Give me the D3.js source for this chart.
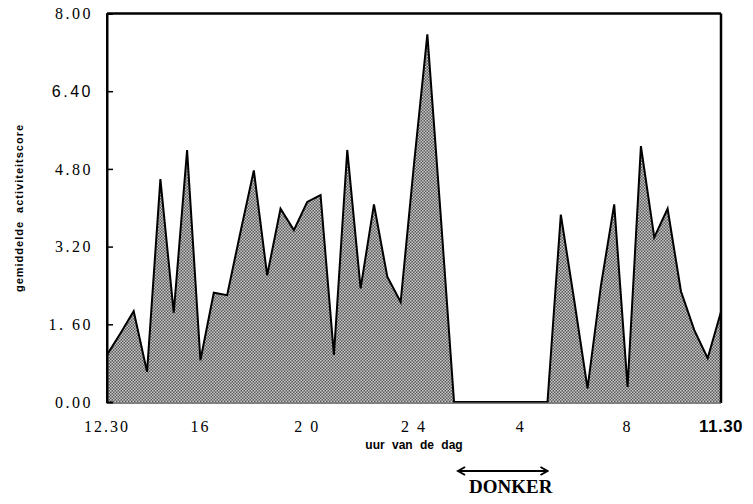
<!DOCTYPE html>
<html>
<head>
<meta charset="utf-8">
<script src="https://cdn.jsdelivr.net/npm/d3@7"></script>
<style>
  body { margin: 0; background: #fff; }
  svg { display: block; }
  .ylab { font-family: "Liberation Serif", serif; font-size: 16px; letter-spacing: 2.5px; }
  .xlab { font-family: "Liberation Serif", serif; font-size: 16px; letter-spacing: 2px; }
</style>
</head>
<body>
<div id="chart"></div>
<script>
// half-hour samples, 12.30 -> 11.30 next day
var times = ["12:30","13:00","13:30","14:00","14:30","15:00","15:30","16:00","16:30","17:00",
             "17:30","18:00","18:30","19:00","19:30","20:00","20:30","21:00","21:30","22:00",
             "22:30","23:00","23:30","24:00","00:30","01:00","01:30","02:00","02:30","03:00",
             "03:30","04:00","04:30","05:00","05:30","06:00","06:30","07:00","07:30","08:00",
             "08:30","09:00","09:30","10:00","10:30","11:00","11:30"];

// gemiddelde activiteitscore per half uur
var scores = [0.97, 1.41, 1.87, 0.62, 4.59, 1.84, 5.19, 0.86, 2.25, 2.20,
              3.50, 4.77, 2.61, 3.98, 3.54, 4.12, 4.26, 0.97, 5.19, 2.34,
              4.07, 2.58, 2.06, 4.90, 7.57, 3.85, 0.00, 0.00, 0.00, 0.00,
              0.00, 0.00, 0.00, 0.00, 3.86, 2.10, 0.28, 2.39, 4.07, 0.31,
              5.27, 3.39, 3.98, 2.28, 1.48, 0.90, 1.86];

var yTicks = [0, 1.6, 3.2, 4.8, 6.4, 8];
var yTickLabels = ["0.00", "1. 60", "3.20", "4.80", "6.40", "8.00"];
var xTicks = [12.5, 16, 20, 24, 28, 32, 35.5];
var xTickLabels = ["12.30", "16", "2 0", "2 4", "4", "8", "11.30"];

// dark period (hours since midnight of first day)
var darkPeriod = [25.65, 29.0];

// hours since midnight of first day
function toHours(t, i) {
  var p = t.split(":");
  var h = +p[0] + (+p[1]) / 60;
  if (i > 0 && h < 12.5) h += 24;
  return h;
}

var data = times.map(function(t, i) { return {h: toHours(t, i), v: scores[i]}; });

var W = 753, H = 504;
var margin = {top: 13.5, right: 32, bottom: 102, left: 107};
var width = W - margin.left - margin.right,
    height = H - margin.top - margin.bottom;

var svg = d3.select("#chart").append("svg")
    .attr("width", W)
    .attr("height", H);

// halftone fill
var defs = svg.append("defs");
var pat = defs.append("pattern")
    .attr("id", "dots")
    .attr("patternUnits", "userSpaceOnUse")
    .attr("width", 3)
    .attr("height", 3);
pat.append("rect").attr("width", 3).attr("height", 3).attr("fill", "#fff");
pat.append("rect").attr("width", 1.5).attr("height", 1.5).attr("fill", "#222");
pat.append("rect").attr("x", 1.5).attr("y", 1.5).attr("width", 1.5).attr("height", 1.5).attr("fill", "#222");

var g = svg.append("g")
    .attr("transform", "translate(" + margin.left + "," + margin.top + ")");

var x = d3.scaleLinear()
    .domain([xTicks[0], xTicks[xTicks.length - 1]])
    .range([0, width]);

var y = d3.scaleLinear()
    .domain([0, 8])
    .range([height, 0]);

// area + outline
g.append("path")
    .datum(data)
    .attr("fill", "url(#dots)")
    .attr("d", d3.area()
        .x(function(d) { return x(d.h); })
        .y0(y(0))
        .y1(function(d) { return y(d.v); }));

g.append("path")
    .datum(data)
    .attr("fill", "none")
    .attr("stroke", "#000")
    .attr("stroke-width", 2)
    .attr("stroke-linejoin", "miter")
    .attr("d", d3.line()
        .x(function(d) { return x(d.h); })
        .y(function(d) { return y(d.v); }));

// frame
g.append("line").attr("x1", 0).attr("x2", width).attr("y1", 0).attr("y2", 0)
    .attr("stroke", "#000").attr("stroke-width", 2.5);
g.append("line").attr("x1", width).attr("x2", width).attr("y1", 0).attr("y2", height + 1)
    .attr("stroke", "#000").attr("stroke-width", 2.5);
g.append("line").attr("x1", 0).attr("x2", width).attr("y1", height + 1).attr("y2", height + 1)
    .attr("stroke", "#555").attr("stroke-width", 1.5);

// y axis, ticks inside
var yAxis = g.append("g")
    .call(d3.axisRight(y)
        .tickValues(yTicks.slice(1))
        .tickSize(6)
        .tickFormat(""));
yAxis.select(".domain").attr("stroke-width", 2);
yAxis.selectAll(".tick line").attr("stroke-width", 1.5);
g.append("line").attr("x1", 0).attr("x2", 0).attr("y1", 0).attr("y2", height + 1)
    .attr("stroke", "#000").attr("stroke-width", 2);

g.selectAll(".ylab")
    .data(yTicks)
    .enter().append("text")
    .attr("class", "ylab")
    .attr("x", -14)
    .attr("y", function(d) { return y(d); })
    .attr("dy", "0.36em")
    .attr("text-anchor", "end")
    .style("font-family", function(d, i) { return i === 4 ? "'Liberation Sans', sans-serif" : null; })
    .text(function(d, i) { return yTickLabels[i]; });

// x labels
g.selectAll(".xlab")
    .data(xTicks)
    .enter().append("text")
    .attr("class", "xlab")
    .attr("x", function(d) { return x(d); })
    .attr("y", height + 30)
    .attr("text-anchor", "middle")
    .style("font-family", function(d, i) { return i === 6 ? "'Liberation Sans', sans-serif" : null; })
    .style("font-weight", function(d, i) { return i === 6 ? "bold" : null; })
    .style("letter-spacing", function(d, i) { return i === 6 ? "0.5px" : null; })
    .style("font-size", function(d, i) { return i === 6 ? "17px" : null; })
    .text(function(d, i) { return xTickLabels[i]; });

// axis titles
g.append("text")
    .attr("x", x(24))
    .attr("y", height + 47)
    .attr("text-anchor", "middle")
    .style("font-family", "'Liberation Sans', sans-serif")
    .style("font-weight", "bold")
    .style("font-size", "12px")
    .style("word-spacing", "4px")
    .text("uur van de dag");

svg.append("text")
    .attr("transform", "translate(23,208) rotate(-90)")
    .attr("text-anchor", "middle")
    .style("font-family", "'Liberation Sans', sans-serif")
    .style("font-weight", "bold")
    .style("font-size", "11px")
    .style("letter-spacing", "1px")
    .style("word-spacing", "4px")
    .text("gemiddelde activiteitscore");

// dark period marker
defs.append("marker")
    .attr("id", "head")
    .attr("viewBox", "0 0 10 10")
    .attr("refX", 8).attr("refY", 5)
    .attr("markerWidth", 5).attr("markerHeight", 5)
    .attr("orient", "auto-start-reverse")
    .append("path")
    .attr("d", "M1,1 L8,5 L1,9")
    .attr("fill", "none")
    .attr("stroke", "#000")
    .attr("stroke-width", 2);

g.append("line")
    .attr("x1", x(darkPeriod[0])).attr("x2", x(darkPeriod[1]))
    .attr("y1", height + 69).attr("y2", height + 69)
    .attr("stroke", "#000")
    .attr("stroke-width", 2)
    .attr("marker-start", "url(#head)")
    .attr("marker-end", "url(#head)");

g.append("text")
    .attr("x", (x(darkPeriod[0]) + x(darkPeriod[1])) / 2 + 8)
    .attr("y", height + 91)
    .attr("text-anchor", "middle")
    .style("font-family", "'Liberation Serif', serif")
    .style("font-weight", "bold")
    .style("font-size", "19px")
    .text("DONKER");
</script>
</body>
</html>
